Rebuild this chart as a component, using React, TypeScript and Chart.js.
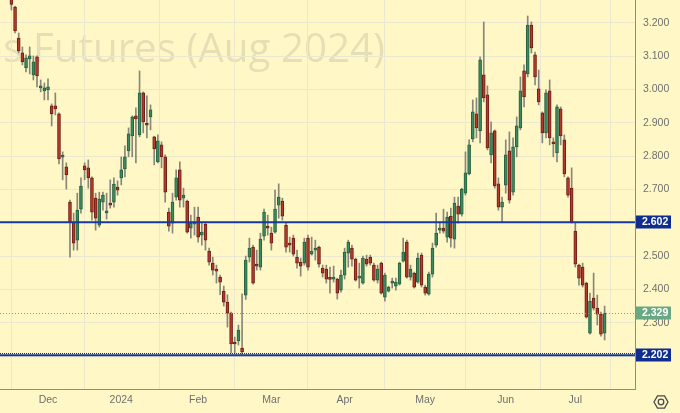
import React, { useEffect, useRef } from 'react';
import { Chart, registerables } from 'chart.js';

Chart.register(...registerables);

// Daily candles, Nov 16 2023 .. Jul 12 2024 (trading-day index)
const opens = [
  3.290, 3.248, 3.155, 3.110, 3.065, 3.092, 3.044, 3.098, 3.005, 2.996,
  2.999, 2.951, 2.951, 2.927, 2.797, 2.768, 2.662, 2.602, 2.548, 2.641,
  2.771, 2.765, 2.735, 2.674, 2.593, 2.662, 2.630, 2.659, 2.662, 2.707,
  2.735, 2.762, 2.816, 2.861, 2.921, 2.864, 2.990, 2.896, 2.918, 2.858,
  2.783, 2.834, 2.798, 2.632, 2.599, 2.677, 2.759, 2.674, 2.665, 2.584,
  2.596, 2.617, 2.563, 2.596, 2.515, 2.479, 2.458, 2.437, 2.395, 2.362,
  2.329, 2.242, 2.245, 2.224, 2.383, 2.497, 2.527, 2.476, 2.467, 2.560,
  2.590, 2.569, 2.572, 2.653, 2.665, 2.593, 2.536, 2.554, 2.497, 2.482,
  2.479, 2.554, 2.506, 2.518, 2.527, 2.464, 2.461, 2.432, 2.431, 2.431,
  2.398, 2.443, 2.509, 2.524, 2.491, 2.434, 2.419, 2.491, 2.497, 2.473,
  2.428, 2.479, 2.377, 2.395, 2.419, 2.410, 2.416, 2.485, 2.542, 2.437,
  2.449, 2.422, 2.503, 2.407, 2.386, 2.446, 2.533, 2.578, 2.584, 2.557,
  2.620, 2.551, 2.650, 2.626, 2.689, 2.747, 2.852, 2.927, 2.876, 3.044,
  2.984, 2.804, 2.876, 2.717, 2.647, 2.713, 2.816, 2.692, 2.828, 2.885,
  3.056, 3.047, 3.194, 3.104, 3.002, 2.930, 2.870, 2.996, 2.840, 2.810,
  2.942, 2.849, 2.735, 2.704, 2.575, 2.473, 2.467, 2.419, 2.269, 2.374,
  2.344, 2.326, 2.269,
];
const highs = [
  3.300, 3.251, 3.170, 3.128, 3.104, 3.128, 3.101, 3.101, 3.029, 3.020,
  3.032, 2.957, 2.990, 2.930, 2.813, 2.780, 2.668, 2.629, 2.689, 2.735,
  2.780, 2.789, 2.738, 2.689, 2.692, 2.692, 2.689, 2.729, 2.735, 2.726,
  2.798, 2.831, 2.885, 2.921, 2.945, 3.056, 2.993, 2.981, 2.954, 2.860,
  2.864, 2.843, 2.804, 2.644, 2.689, 2.759, 2.783, 2.704, 2.668, 2.623,
  2.647, 2.647, 2.602, 2.602, 2.524, 2.497, 2.473, 2.443, 2.410, 2.384,
  2.332, 2.257, 2.293, 2.387, 2.500, 2.554, 2.533, 2.518, 2.569, 2.641,
  2.623, 2.587, 2.698, 2.717, 2.674, 2.599, 2.557, 2.563, 2.518, 2.494,
  2.554, 2.563, 2.557, 2.548, 2.530, 2.473, 2.473, 2.467, 2.470, 2.434,
  2.458, 2.524, 2.548, 2.533, 2.494, 2.479, 2.500, 2.503, 2.503, 2.479,
  2.473, 2.482, 2.449, 2.410, 2.434, 2.434, 2.482, 2.554, 2.548, 2.473,
  2.452, 2.509, 2.509, 2.413, 2.452, 2.539, 2.629, 2.602, 2.641, 2.632,
  2.644, 2.677, 2.677, 2.704, 2.813, 2.849, 2.969, 2.975, 3.098, 3.203,
  3.011, 2.903, 2.879, 2.735, 2.677, 2.849, 2.873, 2.855, 2.918, 3.038,
  3.074, 3.221, 3.203, 3.113, 3.059, 2.933, 2.999, 3.029, 2.855, 2.954,
  2.948, 2.864, 2.738, 2.765, 2.599, 2.476, 2.479, 2.422, 2.389, 2.449,
  2.383, 2.332, 2.350,
];
const lows = [
  3.239, 3.170, 3.110, 3.074, 3.053, 3.047, 3.029, 3.008, 2.993, 2.969,
  2.969, 2.891, 2.924, 2.777, 2.729, 2.701, 2.497, 2.518, 2.518, 2.629,
  2.729, 2.704, 2.608, 2.578, 2.587, 2.638, 2.611, 2.644, 2.647, 2.683,
  2.714, 2.738, 2.798, 2.798, 2.780, 2.858, 2.870, 2.855, 2.879, 2.774,
  2.780, 2.765, 2.662, 2.575, 2.569, 2.668, 2.647, 2.647, 2.569, 2.554,
  2.563, 2.542, 2.533, 2.518, 2.473, 2.443, 2.419, 2.384, 2.350, 2.287,
  2.209, 2.209, 2.233, 2.206, 2.370, 2.482, 2.416, 2.458, 2.458, 2.548,
  2.563, 2.518, 2.569, 2.614, 2.608, 2.512, 2.512, 2.500, 2.464, 2.440,
  2.473, 2.458, 2.503, 2.488, 2.467, 2.437, 2.419, 2.389, 2.422, 2.371,
  2.392, 2.431, 2.467, 2.470, 2.425, 2.404, 2.416, 2.470, 2.473, 2.425,
  2.419, 2.386, 2.365, 2.392, 2.404, 2.398, 2.413, 2.482, 2.434, 2.428,
  2.404, 2.419, 2.407, 2.383, 2.383, 2.437, 2.527, 2.569, 2.569, 2.542,
  2.527, 2.524, 2.599, 2.620, 2.683, 2.744, 2.843, 2.855, 2.840, 2.963,
  2.819, 2.780, 2.704, 2.638, 2.602, 2.689, 2.659, 2.683, 2.798, 2.879,
  2.948, 3.038, 3.110, 3.014, 2.954, 2.840, 2.855, 2.834, 2.798, 2.783,
  2.834, 2.738, 2.677, 2.599, 2.467, 2.413, 2.407, 2.314, 2.266, 2.338,
  2.293, 2.260, 2.248,
];
const closes = [
  3.256, 3.176, 3.116, 3.083, 3.095, 3.101, 3.083, 3.041, 3.011, 3.005,
  3.008, 2.927, 2.942, 2.792, 2.800, 2.744, 2.602, 2.539, 2.638, 2.710,
  2.759, 2.735, 2.632, 2.614, 2.671, 2.683, 2.632, 2.653, 2.716, 2.698,
  2.759, 2.798, 2.867, 2.918, 2.912, 2.990, 2.903, 2.893, 2.939, 2.822,
  2.846, 2.798, 2.692, 2.590, 2.662, 2.735, 2.668, 2.683, 2.572, 2.599,
  2.599, 2.557, 2.572, 2.548, 2.482, 2.458, 2.455, 2.422, 2.362, 2.329,
  2.236, 2.236, 2.278, 2.212, 2.488, 2.524, 2.419, 2.470, 2.551, 2.632,
  2.584, 2.539, 2.641, 2.677, 2.620, 2.527, 2.533, 2.506, 2.479, 2.470,
  2.542, 2.467, 2.515, 2.521, 2.476, 2.449, 2.431, 2.430, 2.437, 2.389,
  2.443, 2.512, 2.542, 2.491, 2.428, 2.437, 2.494, 2.476, 2.479, 2.428,
  2.461, 2.389, 2.443, 2.407, 2.422, 2.422, 2.479, 2.512, 2.437, 2.461,
  2.407, 2.494, 2.413, 2.389, 2.446, 2.524, 2.569, 2.584, 2.575, 2.617,
  2.554, 2.659, 2.626, 2.701, 2.750, 2.834, 2.933, 2.885, 3.089, 2.975,
  2.825, 2.870, 2.711, 2.647, 2.662, 2.804, 2.668, 2.828, 2.891, 2.996,
  2.978, 3.194, 3.125, 3.038, 2.963, 2.870, 2.990, 2.855, 2.837, 2.948,
  2.861, 2.747, 2.683, 2.602, 2.476, 2.434, 2.413, 2.317, 2.365, 2.344,
  2.326, 2.266, 2.329,
];

const monthTickIndex = [10, 30, 51, 71, 91, 113, 135, 154];
const monthTickLabels = ['Dec', '2024', 'Feb', 'Mar', 'Apr', 'May', 'Jun', 'Jul'];
const priceTicks = [2.2, 2.3, 2.4, 2.5, 2.6, 2.7, 2.8, 2.9, 3.0, 3.1, 3.2];
const levelLines = [2.602, 2.202];
const lastPrice = 2.329;
const watermarkText = 'Natural Gas Futures (Aug 2024)';

const BG = '#fff8c6';
const GRID = '#ece7cf';
const AXIS = '#8c8c8c';
const LABEL = '#6f6f6f';
const LEVEL_LINE = '#17389c';
const LEVEL_BOX = '#0e2d8e';
const LAST_GREEN = '#6aa884';
const UP_FILL = '#3c8a5f';
const UP_EDGE = '#27603f';
const DN_FILL = '#b5392b';
const DN_EDGE = '#6e1e15';
const WICK = '#86867a';

const decor = {
  id: 'decor',
  beforeDraw(chart: any) {
    const { ctx, chartArea } = chart;
    ctx.save();
    ctx.fillStyle = BG;
    ctx.fillRect(0, 0, chart.width, chart.height);
    // watermark
    ctx.beginPath();
    ctx.rect(chartArea.left, chartArea.top, chartArea.right - chartArea.left, chartArea.bottom - chartArea.top);
    ctx.clip();
    ctx.font = '40px "Open Sans"';
    const w = ctx.measureText('Futures (Aug 2024)').width;
    const sx = 352 / w;
    ctx.translate(385, 62);
    ctx.scale(sx, 1);
    ctx.textAlign = 'right';
    ctx.textBaseline = 'alphabetic';
    ctx.fillStyle = '#e6dfb6';
    ctx.fillText(watermarkText, 0, 0);
    ctx.restore();
  },
  afterDatasetsDraw(chart: any) {
    const { ctx, chartArea, scales } = chart;
    const y = scales.y;
    ctx.save();
    ctx.beginPath();
    ctx.rect(chartArea.left, chartArea.top, chartArea.right - chartArea.left, chartArea.bottom - chartArea.top);
    ctx.clip();
    // last price dotted line
    const ly = Math.round(y.getPixelForValue(lastPrice)) + 0.5;
    ctx.strokeStyle = LAST_GREEN;
    ctx.lineWidth = 1;
    ctx.setLineDash([1, 2]);
    ctx.beginPath();
    ctx.moveTo(chartArea.left, ly);
    ctx.lineTo(chartArea.right, ly);
    ctx.stroke();
    // level lines
    levelLines.forEach((v, i) => {
      const py = y.getPixelForValue(v);
      ctx.setLineDash([]);
      ctx.strokeStyle = LEVEL_LINE;
      ctx.lineWidth = 2;
      ctx.beginPath();
      ctx.moveTo(chartArea.left, py);
      ctx.lineTo(chartArea.right, py);
      ctx.stroke();
      if (i === 1) {
        ctx.setLineDash([1, 1]);
        ctx.lineWidth = 1;
        ctx.strokeStyle = '#1b2a6a';
        ctx.beginPath();
        ctx.moveTo(chartArea.left, Math.round(py) - 1.5);
        ctx.lineTo(chartArea.right, Math.round(py) - 1.5);
        ctx.stroke();
      }
    });
    ctx.restore();
  },
  afterDraw(chart: any) {
    const { ctx, chartArea, scales } = chart;
    const y = scales.y;
    ctx.save();
    const box = (v: number, fill: string) => {
      const py = y.getPixelForValue(v);
      ctx.fillStyle = fill;
      ctx.fillRect(chartArea.right + 1, Math.round(py) - 6.5, 35, 13);
      ctx.fillStyle = '#ffffff';
      ctx.font = 'bold 10.5px "Liberation Sans"';
      ctx.textAlign = 'left';
      ctx.textBaseline = 'middle';
      ctx.fillText(v.toFixed(3), chartArea.right + 7, Math.round(py) + 0.5);
    };
    box(lastPrice, LAST_GREEN);
    levelLines.forEach((v) => box(v, LEVEL_BOX));
    // settings icon
    const cx = 661, cy = 402, r = 7;
    ctx.strokeStyle = '#4a4a4a';
    ctx.lineWidth = 1.3;
    ctx.beginPath();
    for (let k = 0; k < 6; k++) {
      const a = (Math.PI / 3) * k;
      const px = cx + r * Math.cos(a);
      const pyy = cy + r * Math.sin(a);
      if (k === 0) ctx.moveTo(px, pyy); else ctx.lineTo(px, pyy);
    }
    ctx.closePath();
    ctx.stroke();
    ctx.beginPath();
    ctx.arc(cx, cy, 2.8, 0, Math.PI * 2);
    ctx.stroke();
    ctx.restore();
  },
};

export default function App() {
  const ref = useRef<HTMLCanvasElement | null>(null);
  useEffect(() => {
    document.body.style.margin = '0';
    const up = opens.map((o, i) => closes[i] >= o);
    const chart = new Chart(ref.current as HTMLCanvasElement, {
      type: 'bar',
      data: {
        datasets: [
          {
            label: 'wick',
            data: opens.map((_, i) => ({ x: i, y: [lows[i], highs[i]] })) as any,
            backgroundColor: WICK,
            barThickness: 1,
            grouped: false,
            order: 2,
          },
          {
            label: 'body',
            data: opens.map((o, i) => ({ x: i, y: [Math.min(o, closes[i]), Math.max(o, closes[i])] })) as any,
            backgroundColor: up.map((u) => (u ? UP_FILL : DN_FILL)),
            borderColor: up.map((u) => (u ? UP_EDGE : DN_EDGE)),
            borderWidth: 1,
            borderSkipped: false,
            barThickness: 3,
            minBarLength: 2,
            grouped: false,
            order: 1,
          },
        ],
      },
      options: {
        animation: false,
        responsive: false,
        maintainAspectRatio: false,
        layout: { padding: 0 },
        plugins: { legend: { display: false }, tooltip: { enabled: false } },
        scales: {
          x: {
            type: 'linear',
            min: -3.11,
            max: 170.3,
            offset: false,
            afterBuildTicks: (s: any) => {
              s.ticks = monthTickIndex.map((v) => ({ value: v }));
            },
            afterFit: (s: any) => {
              s.height = 24;
              s.paddingLeft = 0;
              s.paddingRight = 0;
            },
            ticks: {
              autoSkip: false,
              maxRotation: 0,
              padding: 5,
              color: LABEL,
              font: { family: '"Liberation Sans"', size: 10.5 },
              callback: (_v: any, idx: number) => monthTickLabels[idx],
            },
            grid: { color: GRID, drawTicks: false },
            border: { display: true, color: AXIS, width: 1 },
          },
          y: {
            type: 'linear',
            position: 'right',
            min: 2.101,
            max: 3.269,
            afterBuildTicks: (s: any) => {
              s.ticks = priceTicks.map((v) => ({ value: v }));
            },
            afterFit: (s: any) => {
              s.width = 45;
              s.paddingTop = 0;
              s.paddingBottom = 0;
            },
            ticks: {
              padding: 8,
              color: LABEL,
              font: { family: '"Liberation Sans"', size: 10.5 },
              callback: (v: any) => Number(v).toFixed(3),
            },
            grid: { color: GRID, drawTicks: false },
            border: { display: true, color: AXIS, width: 1 },
          },
        },
      },
      plugins: [decor],
    });
    return () => chart.destroy();
  }, []);
  return (
    <div style={{ position: 'absolute', left: 0, top: 0, width: 680, height: 413 }}>
      <canvas ref={ref} width={680} height={413} style={{ width: 680, height: 413, display: 'block' }} />
    </div>
  );
}
